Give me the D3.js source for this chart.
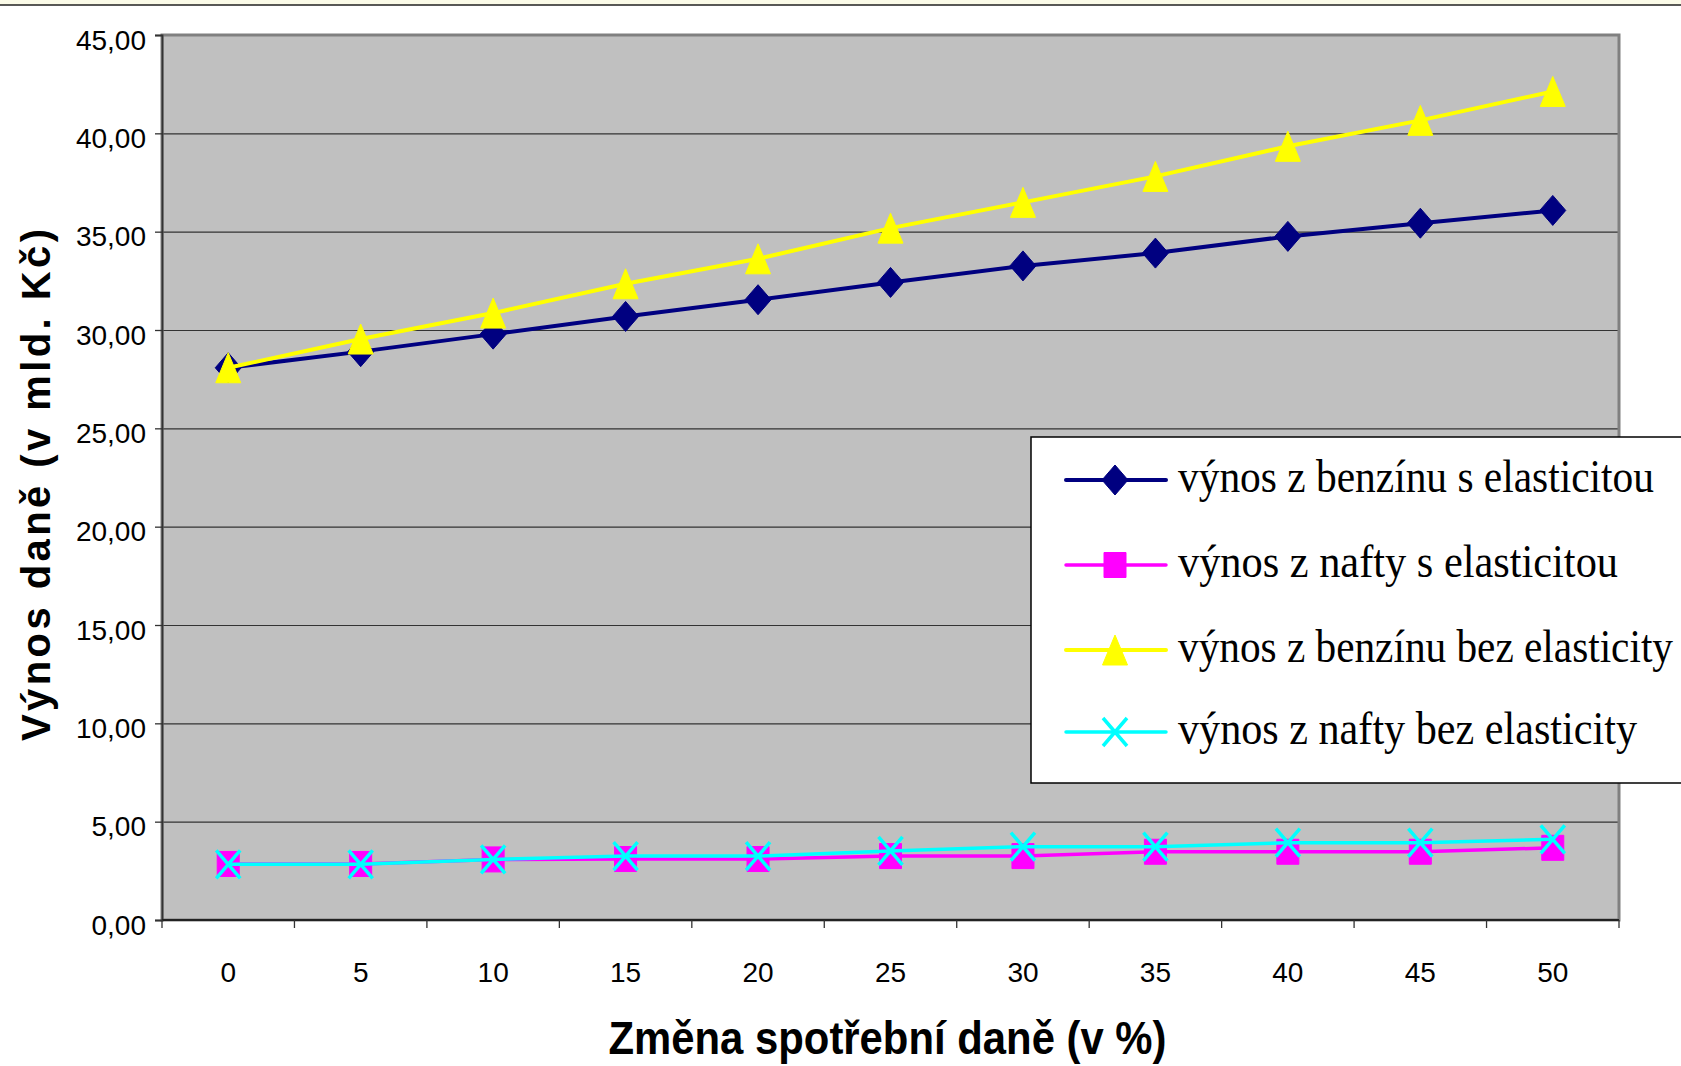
<!DOCTYPE html>
<html>
<head>
<meta charset="utf-8">
<script src="https://cdn.jsdelivr.net/npm/d3@7"></script>
<style>
  html, body { margin: 0; padding: 0; background: #ffffff; }
  svg { display: block; }
</style>
</head>
<body>
<svg id="chart" width="1681" height="1066"></svg>
<script>
// ---- data ----
const categories = ["0", "5", "10", "15", "20", "25", "30", "35", "40", "45", "50"];
const benzinElast = [28.08, 28.9, 29.79, 30.69, 31.54, 32.42, 33.26, 33.91, 34.76, 35.43, 36.08];
const naftaElast = [2.85, 2.85, 3.08, 3.1, 3.1, 3.25, 3.25, 3.47, 3.47, 3.47, 3.67];
const benzinBez = [28.08, 29.54, 30.86, 32.35, 33.62, 35.18, 36.49, 37.81, 39.34, 40.66, 42.13];
const naftaBez = [2.83, 2.83, 3.08, 3.25, 3.25, 3.51, 3.73, 3.73, 3.93, 3.93, 4.10];
const seriesNames = [
  "výnos z benzínu s elasticitou",
  "výnos z nafty s elasticitou",
  "výnos z benzínu bez elasticity",
  "výnos z nafty bez elasticity"
];
const yTicks = [0, 5, 10, 15, 20, 25, 30, 35, 40, 45];
const yTitle = "Výnos daně (v mld. Kč)";
const xTitle = "Změna spotřební daně (v %)";

// ---- styles ----
const seriesStyles = [
  { color: "#000080", marker: "diamond", width: 4 },
  { color: "#ff00ff", marker: "square", width: 3.5 },
  { color: "#ffff00", marker: "triangle", width: 4 },
  { color: "#00ffff", marker: "x", width: 3.5 }
];
const seriesValues = [benzinElast, naftaElast, benzinBez, naftaBez];

const svg = d3.select("#chart");
const plot = { left: 162, right: 1619, top: 35, bottom: 920 };

// top strip
svg.append("rect").attr("x", 0).attr("y", 0).attr("width", 1681).attr("height", 5).attr("fill", "#fbfbe8");
svg.append("line").attr("x1", 0).attr("x2", 1681).attr("y1", 5).attr("y2", 5).attr("stroke", "#222").attr("stroke-width", 1.5);

const x = d3.scaleBand().domain(categories).range([plot.left, plot.right]).padding(0);
const y = d3.scaleLinear().domain([0, 45]).range([plot.bottom, plot.top]);
const cx = c => x(c) + x.bandwidth() / 2;

// plot background
svg.append("rect")
  .attr("x", plot.left).attr("y", plot.top)
  .attr("width", plot.right - plot.left).attr("height", plot.bottom - plot.top)
  .attr("fill", "#c0c0c0");

// gridlines
svg.append("g").selectAll("line").data(yTicks.filter(t => t > 0 && t < 45)).join("line")
  .attr("x1", plot.left).attr("x2", plot.right)
  .attr("y1", d => y(d) + 0.5).attr("y2", d => y(d) + 0.5)
  .attr("stroke", "#333").attr("stroke-width", 1.2);

// plot border (gray)
svg.append("rect")
  .attr("x", plot.left).attr("y", plot.top)
  .attr("width", plot.right - plot.left).attr("height", plot.bottom - plot.top)
  .attr("fill", "none").attr("stroke", "#808080").attr("stroke-width", 3);

// y axis
const yAxis = d3.axisLeft(y).tickValues(yTicks).tickSize(7).tickPadding(0)
  .tickFormat(d => d3.format(".2f")(d).replace(".", ","));
const gy = svg.append("g").attr("transform", `translate(${plot.left},0)`).call(yAxis);
gy.select(".domain").attr("stroke", "#333").attr("stroke-width", 1.8);
gy.selectAll(".tick line").attr("stroke", "#333").attr("stroke-width", 1.3);
gy.selectAll(".tick text")
  .attr("x", -16).attr("dy", null).attr("y", 14)
  .attr("font-family", "'Liberation Sans', Arial, sans-serif")
  .attr("font-size", 28).attr("fill", "#000");

// x axis line
svg.append("line").attr("x1", plot.left).attr("x2", plot.right)
  .attr("y1", plot.bottom).attr("y2", plot.bottom)
  .attr("stroke", "#222").attr("stroke-width", 2);
// x ticks at band boundaries
const boundaries = categories.map(c => x(c)).concat([x(categories[categories.length - 1]) + x.bandwidth()]);
svg.append("g").selectAll("line").data(boundaries).join("line")
  .attr("x1", d => d).attr("x2", d => d)
  .attr("y1", plot.bottom).attr("y2", plot.bottom + 8)
  .attr("stroke", "#333").attr("stroke-width", 1.3);
// x labels
const xAxis = d3.axisBottom(x).tickSize(0).tickPadding(0);
const gx = svg.append("g").attr("transform", `translate(0,${plot.bottom})`).call(xAxis);
gx.select(".domain").remove();
gx.selectAll(".tick text")
  .attr("y", 62).attr("dy", null)
  .attr("font-family", "'Liberation Sans', Arial, sans-serif")
  .attr("font-size", 28).attr("fill", "#000");

// markers
function markerPath(type, px, py) {
  const p = d3.path();
  if (type === "diamond") {
    p.moveTo(px, py - 15); p.lineTo(px + 13, py); p.lineTo(px, py + 15); p.lineTo(px - 13, py); p.closePath();
  } else if (type === "square") {
    p.rect(px - 11, py - 12.5, 22, 25);
  } else if (type === "triangle") {
    p.moveTo(px, py - 15); p.lineTo(px + 12.5, py + 15); p.lineTo(px - 12.5, py + 15); p.closePath();
  } else if (type === "x") {
    p.moveTo(px - 12, py - 14); p.lineTo(px + 12, py + 14);
    p.moveTo(px + 12, py - 14); p.lineTo(px - 12, py + 14);
  }
  return p.toString();
}
function drawMarker(g, type, color, px, py) {
  const path = g.append("path").attr("d", markerPath(type, px, py));
  if (type === "x") {
    path.attr("fill", "none").attr("stroke", color).attr("stroke-width", 3.5);
  } else {
    path.attr("fill", color).attr("stroke", color).attr("stroke-width", 1).attr("stroke-linejoin", "round");
  }
}

const line = d3.line().x((d, i) => cx(categories[i])).y(d => y(d));
seriesValues.forEach((vals, si) => {
  const st = seriesStyles[si];
  const g = svg.append("g");
  g.append("path").attr("d", line(vals)).attr("fill", "none")
    .attr("stroke", st.color).attr("stroke-width", st.width).attr("stroke-linejoin", "round");
  vals.forEach((v, i) => drawMarker(g, st.marker, st.color, cx(categories[i]), y(v)));
});

// legend
const legend = svg.append("g");
legend.append("rect").attr("x", 1031).attr("y", 437).attr("width", 700).attr("height", 346)
  .attr("fill", "#fff").attr("stroke", "#000").attr("stroke-width", 1.5);
const legendRowsY = [480, 565, 650, 732];
const legendTextWidths = [476, 440, 495, 459];
seriesNames.forEach((name, si) => {
  const st = seriesStyles[si];
  const ly = legendRowsY[si];
  legend.append("line").attr("x1", 1066).attr("x2", 1166).attr("y1", ly).attr("y2", ly)
    .attr("stroke", st.color).attr("stroke-width", st.width).attr("stroke-linecap", "round");
  drawMarker(legend, st.marker, st.color, 1115, ly);
  legend.append("text").attr("x", 1178).attr("y", ly + 12)
    .attr("font-family", "'Liberation Serif', 'Times New Roman', serif")
    .attr("font-size", 46).attr("fill", "#000")
    .attr("textLength", legendTextWidths[si]).attr("lengthAdjust", "spacingAndGlyphs")
    .text(name);
});

// titles
svg.append("text")
  .attr("transform", "translate(50,485) rotate(-90)")
  .attr("text-anchor", "middle")
  .attr("font-family", "'Liberation Sans', Arial, sans-serif")
  .attr("font-weight", "bold").attr("font-size", 40).attr("fill", "#000")
  .attr("textLength", 512).attr("lengthAdjust", "spacing")
  .text(yTitle);

svg.append("text")
  .attr("x", (plot.left + plot.right) / 2 - 3).attr("y", 1054)
  .attr("text-anchor", "middle")
  .attr("font-family", "'Liberation Sans', Arial, sans-serif")
  .attr("font-weight", "bold").attr("font-size", 46).attr("fill", "#000")
  .attr("textLength", 558).attr("lengthAdjust", "spacingAndGlyphs")
  .text(xTitle);
</script>
</body>
</html>
